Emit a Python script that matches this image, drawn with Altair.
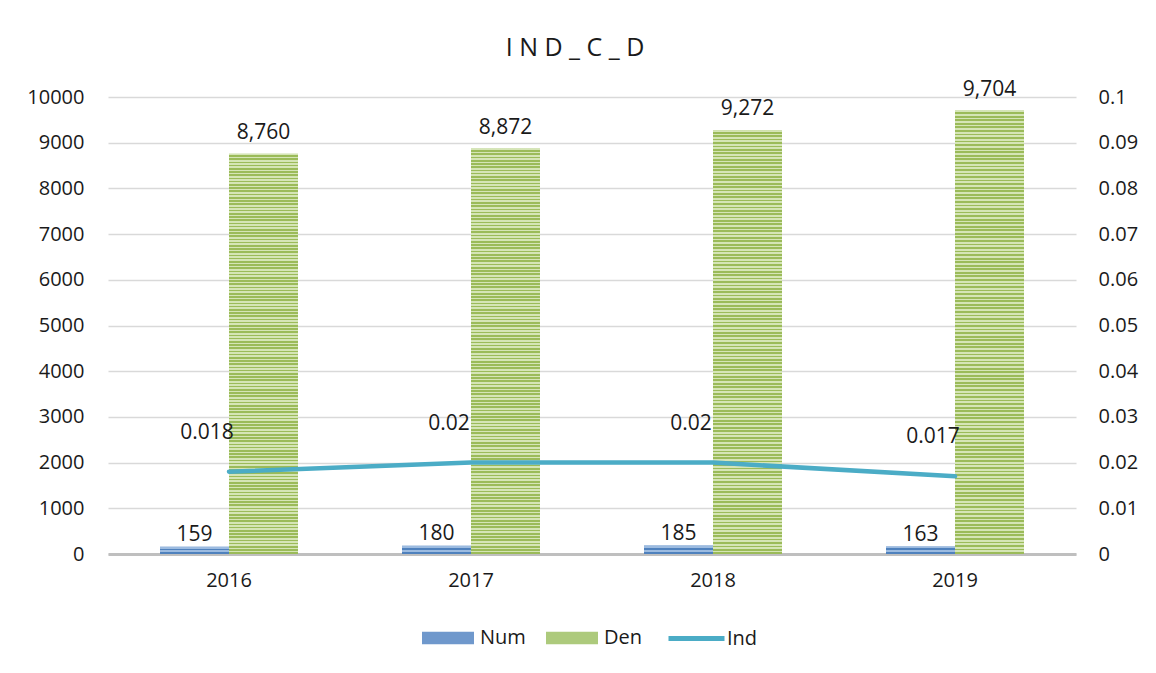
import altair as alt
import pandas as pd

years = ["2016", "2017", "2018", "2019"]
num_vals = [159, 180, 185, 163]
den_vals = [8760, 8872, 9272, 9704]
ind_vals = [0.018, 0.02, 0.02, 0.017]
series_names = ["Num", "Den"]
left_ticks = [0, 1000, 2000, 3000, 4000, 5000, 6000, 7000, 8000, 9000, 10000]
right_ticks = [0, 0.01, 0.02, 0.03, 0.04, 0.05, 0.06, 0.07, 0.08, 0.09, 0.1]

FONT = "Open Sans"
TXT = "#1a1a1a"

bars_df = pd.DataFrame(
    {"year": years * 2,
     "series": ["Num"] * 4 + ["Den"] * 4,
     "value": num_vals + den_vals}
)
ind_df = pd.DataFrame({"year": years, "series": ["Ind"] * 4, "ind": ind_vals})


def stripes(dark, light, periods):
    stops = []
    for i in range(periods):
        a = i / periods
        b = (i + 0.5) / periods
        c = (i + 1) / periods
        stops += [alt.GradientStop(offset=a, color=light),
                  alt.GradientStop(offset=b, color=light),
                  alt.GradientStop(offset=b, color=dark),
                  alt.GradientStop(offset=c, color=dark)]
    return alt.Gradient(gradient="linear", stops=stops, x1=0, x2=0, y1=0, y2=1)


den_fill = stripes("#9bbb59", "#d5e5b6", 125)
num_fill = stripes("#4f81bd", "#9cbbe0", 2)

xenc = alt.X("year:N", sort=years,
             scale=alt.Scale(paddingInner=0.43, paddingOuter=0.215),
             axis=alt.Axis(title=None, labelAngle=0, ticks=False, domain=True,
                           domainColor="#bfbfbf", domainWidth=3, labelPadding=16,
                           grid=False))
xoff = alt.XOffset("series:N", scale=alt.Scale(domain=series_names, paddingInner=0, paddingOuter=0))
yleft = alt.Y("value:Q",
              scale=alt.Scale(domain=[0, 10000], nice=False),
              axis=alt.Axis(title=None, values=left_ticks, format="d", ticks=False,
                            domain=False, grid=True, gridColor="#d9d9d9", gridWidth=1.5,
                            labelPadding=24))

base = alt.Chart(bars_df)

solid = base.mark_bar().encode(
    x=xenc, xOffset=xoff, y=yleft,
    color=alt.Color("series:N",
                    scale=alt.Scale(domain=series_names, range=["#6f98cc", "#adca7c"]),
                    legend=alt.Legend(title=None, orient="none", direction="horizontal",
                                      legendX=314, legendY=515,
                                      symbolType="M-1,-0.24H1V0.24H-1Z", symbolSize=2704,
                                      symbolStrokeWidth=0, labelOffset=6, columnPadding=20,
                                      labelFont=FONT, labelFontSize=20, labelColor=TXT,
                                      padding=0)),
)

num_only = base.transform_filter(alt.datum.series == "Num")
den_only = base.transform_filter(alt.datum.series == "Den")

num_striped = num_only.mark_bar(fill=num_fill).encode(x=xenc, xOffset=xoff, y=yleft)
den_striped = den_only.mark_bar(fill=den_fill).encode(x=xenc, xOffset=xoff, y=yleft)

num_labels = num_only.mark_text(baseline="bottom", dy=-2, font=FONT, fontSize=21, color=TXT).encode(
    x=xenc, xOffset=xoff, y=yleft, text=alt.Text("value:Q", format=","))
den_labels = den_only.mark_text(baseline="bottom", dy=-11, font=FONT, fontSize=21, color=TXT).encode(
    x=xenc, xOffset=xoff, y=yleft, text=alt.Text("value:Q", format=","))

left = alt.layer(solid, num_striped, den_striped, num_labels, den_labels)

yright = alt.Y("ind:Q",
               scale=alt.Scale(domain=[0, 0.1], nice=False),
               axis=alt.Axis(title=None, orient="right", values=right_ticks, format=".2~f",
                             ticks=False, domain=False, grid=False, labelPadding=22))

lbase = alt.Chart(ind_df)
line = lbase.mark_line(strokeWidth=4.5, strokeCap="round", strokeJoin="round").encode(
    x=alt.X("year:N", sort=years),
    y=yright,
    stroke=alt.Stroke("series:N",
                      scale=alt.Scale(domain=["Ind"], range=["#4bacc6"]),
                      legend=alt.Legend(title=None, orient="none", direction="horizontal",
                                        legendX=558, legendY=511,
                                        symbolType="stroke", symbolSize=3136,
                                        symbolStrokeWidth=5, labelOffset=0,
                                        labelFont=FONT, labelFontSize=20, labelColor=TXT,
                                        padding=0)),
)
line_labels = lbase.mark_text(dx=-22, dy=-39, font=FONT, fontSize=21, color=TXT).encode(
    x=alt.X("year:N", sort=years),
    y=yright,
    text=alt.Text("ind:Q", format="~g"),
)
right = alt.layer(line, line_labels)

chart = alt.layer(left, right).resolve_scale(y="independent").properties(
    width=968, height=457,
    background="white",
    title=alt.TitleParams("I N D _ C _ D", font=FONT, fontSize=25, fontWeight="normal",
                          color=TXT, anchor="middle", dx=-17, dy=8, offset=26),
    autosize=alt.AutoSizeParams(type="none"),
    padding={"left": 100, "top": 89, "right": 70, "bottom": 111},
).configure_view(stroke=None).configure_axis(
    labelFont=FONT, labelFontSize=20, labelColor=TXT
)

chart.save("out.html", embed_options={"renderer": "svg", "actions": False})
